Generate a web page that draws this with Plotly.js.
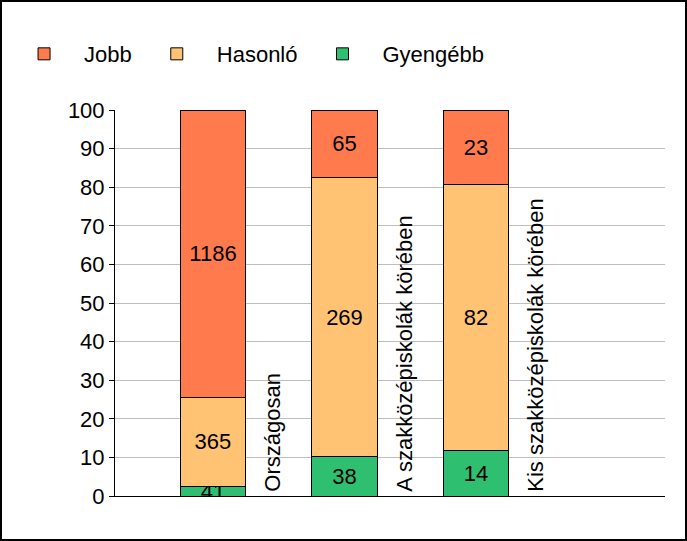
<!DOCTYPE html>
<html>
<head>
<meta charset="utf-8">
<script src="https://cdn.plot.ly/plotly-3.0.1.min.js"></script>
<style>
  body { margin: 0; background: #fff; }
  #chart { width: 687px; height: 541px; border: 2px solid #000; box-sizing: border-box; }
</style>
</head>
<body>
<div id="chart"></div>
<script>
// Data (counts; bars are stacked to 100%)
const categories = ["Országosan", "A szakközépiskolák körében", "Kis szakközépiskolák körében"];
const gyengebb = [41, 38, 14];
const hasonlo = [365, 269, 82];
const jobb = [1186, 65, 23];
const yTicks = [0, 10, 20, 30, 40, 50, 60, 70, 80, 90, 100];

const xIdx = categories.map((_, i) => i);
const FONT = "Liberation Sans, Arial, sans-serif";

function barTrace(name, values, color) {
    return {
        type: "bar",
        name: name,
        x: xIdx,
        y: values,
        text: values.map(String),
        textposition: "inside",
        insidetextanchor: "middle",
        textangle: 0,
        constraintext: "none",
        textfont: {color: "#000", size: 22, family: FONT},
        marker: {color: color, line: {color: "#000", width: 1}},
        width: 0.5,
        hoverinfo: "none"
    };
}

const data = [
    barTrace("Jobb", jobb, "#FF7A4C"),
    barTrace("Hasonló", hasonlo, "#FFC373"),
    barTrace("Gyengébb", gyengebb, "#2EC070")
];
// stacked bottom-up: Gyengébb, Hasonló, Jobb; legend shows Jobb first
data.reverse();

const annotations = categories.map((name, i) => ({
    x: i + 0.45,
    y: 0,
    xref: "x",
    yref: "y",
    text: name,
    textangle: -90,
    xanchor: "center",
    yanchor: "bottom",
    yshift: 2,
    showarrow: false,
    font: {size: 22, color: "#000", family: FONT}
}));

const layout = {
    width: 683,
    height: 537,
    margin: {l: 113, r: 20, t: 108, b: 43, autoexpand: false},
    paper_bgcolor: "#fff",
    plot_bgcolor: "#fff",
    font: {family: FONT, size: 22, color: "#000"},
    barmode: "stack",
    barnorm: "percent",
    uniformtext: {mode: "show", minsize: 22},
    showlegend: true,
    legend: {
        orientation: "h",
        traceorder: "reversed",
        xref: "container",
        x: 0.003,
        xanchor: "left",
        y: 1.145,
        yanchor: "middle",
        font: {size: 22, family: FONT},
        itemwidth: 70
    },
    xaxis: {
        range: [-0.745, 3.437],
        showticklabels: false,
        showgrid: false,
        zeroline: false,
        showline: true,
        linecolor: "#000",
        linewidth: 1,
        ticks: ""
    },
    yaxis: {
        range: [0, 100],
        tickvals: yTicks,
        ticktext: yTicks.map(String),
        showgrid: true,
        gridcolor: "#BEBEBE",
        zeroline: false,
        showline: true,
        linecolor: "#000",
        linewidth: 1,
        ticks: "outside",
        ticklen: 5,
        tickcolor: "#000",
        tickfont: {size: 22, family: FONT}
    },
    annotations: annotations
};

Plotly.newPlot("chart", data, layout, {displayModeBar: false, staticPlot: true});
</script>
</body>
</html>
